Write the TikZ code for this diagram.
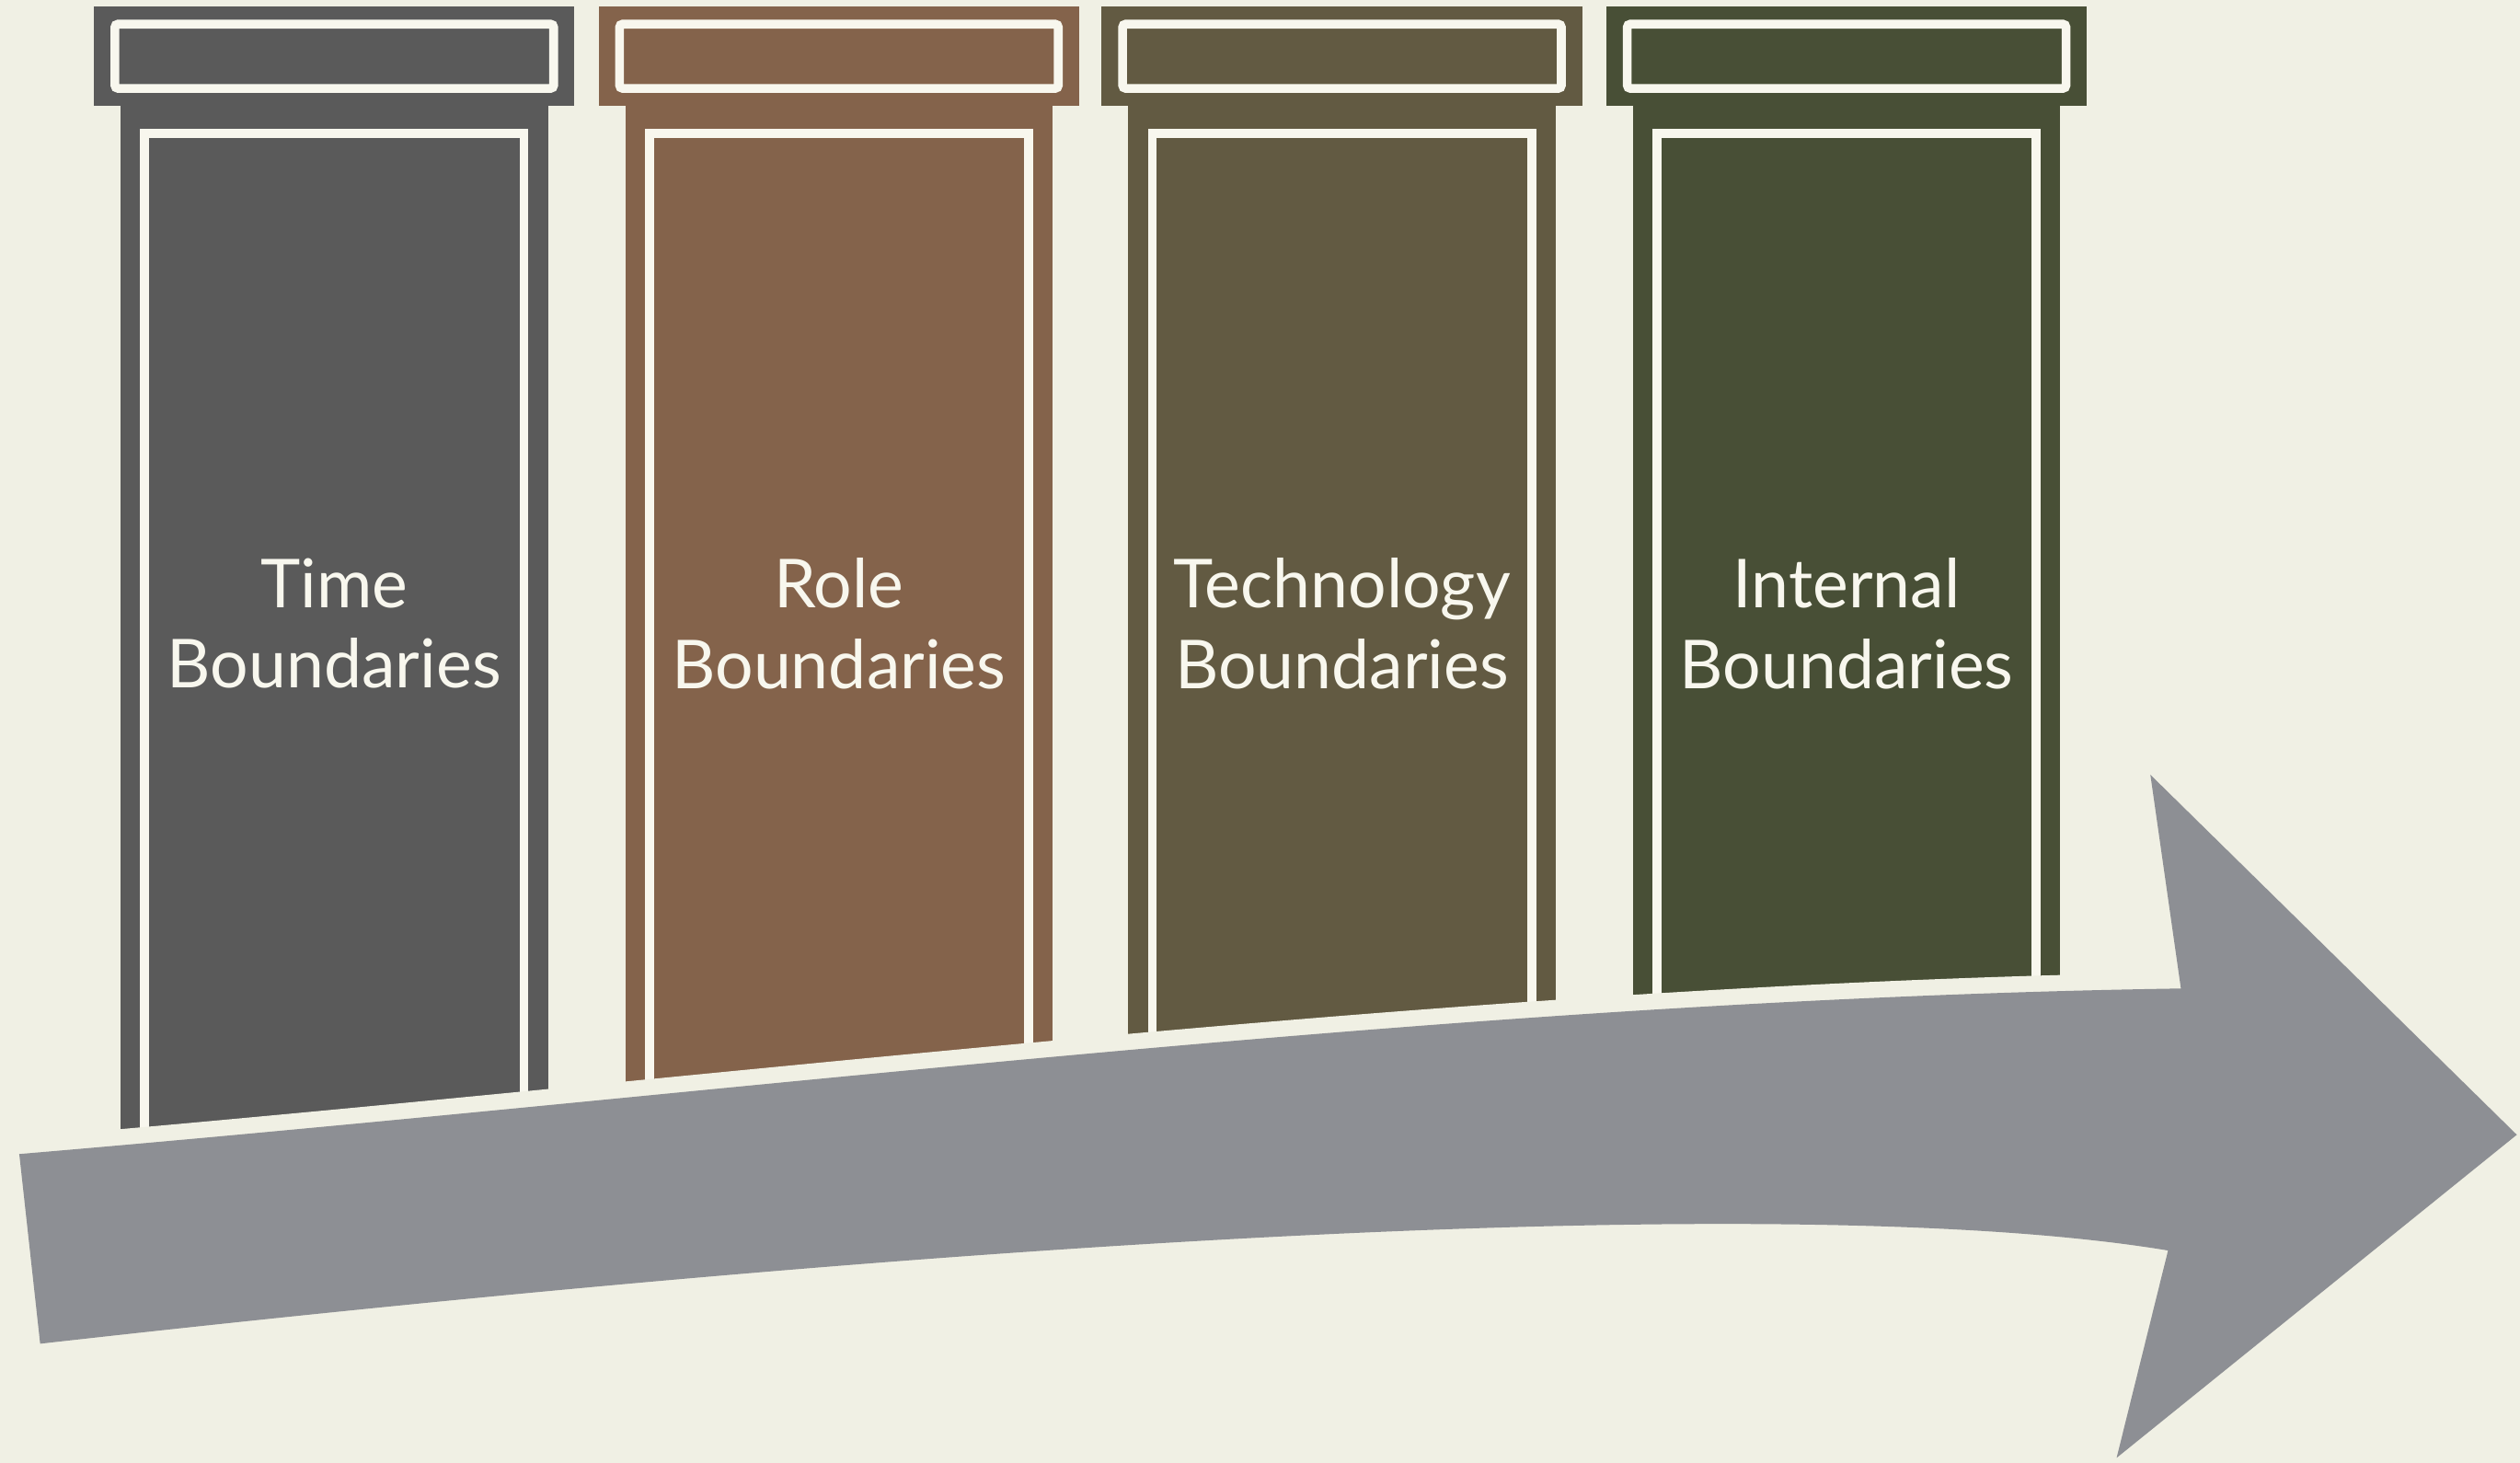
\documentclass[tikz,border=0pt]{standalone}
\usepackage{fontspec}
\usepackage{tikz}
\usetikzlibrary{positioning}
\newfontfamily\labelfont{Lato}
\definecolor{paper}{HTML}{F0F0E4}
\definecolor{edge}{HTML}{F8F7EE}
\definecolor{slate}{HTML}{5A5A5A}
\definecolor{clay}{HTML}{84634B}
\definecolor{umber}{HTML}{625A42}
\definecolor{moss}{HTML}{484F36}
\definecolor{steel}{HTML}{8D8F94}
\tikzset{
x=1pt, y=-1pt, % picture is laid out in pixels, top left origin
shaft/.style={rectangle, minimum width=266pt, inner sep=0pt, outer sep=0pt, anchor=north}, % the body of a pillar
slab/.style={rectangle, minimum width=299pt, minimum height=62pt, inner sep=0pt, outer sep=0pt}, % the top slab
slabline/.style={rectangle, draw=edge, line width=5.5pt, rounded corners=2pt, minimum width=273pt, minimum height=40pt, inner sep=0pt, outer sep=0pt},
panel/.style={rectangle, draw=edge, line width=5.5pt, minimum width=236pt, inner sep=0pt, outer sep=0pt, anchor=north}, % white frame inside the body
tag/.style={text=edge, align=center, font=\labelfont\fontsize{42}{50}\selectfont},
timeline/.style={fill=steel, preaction={draw=paper, line width=20pt, line join=round}}, % the big arrow, its outline cuts the pillars
}
\begin{document}
\begin{tikzpicture}
\fill[paper] (0,0) rectangle (1568,910);
\useasboundingbox (0,0) rectangle (1568,910);

% pillar 1
\node[shaft, fill=slate, minimum height=654pt] (shaft1) at (208,66) {};
\node[slab, fill=slate, above=0pt of shaft1] (slab1) {};
\node[slabline, fill=slate] (slabline1) at (slab1) {};
\node[panel, fill=slate, minimum height=634pt] (panel1) at ([yshift=-17pt]shaft1.north) {};
\node[tag] (tag1) at ([yshift=-322pt]shaft1.north) {Time\\Boundaries};

% pillar 2
\node[shaft, fill=clay, minimum height=634pt] (shaft2) at (522,66) {};
\node[slab, fill=clay, above=0pt of shaft2] (slab2) {};
\node[slabline, fill=clay] (slabline2) at (slab2) {};
\node[panel, fill=clay, minimum height=614pt] (panel2) at ([yshift=-17pt]shaft2.north) {};
\node[tag] (tag2) at ([yshift=-322pt]shaft2.north) {Role\\Boundaries};

% pillar 3
\node[shaft, fill=umber, minimum height=614pt] (shaft3) at (835,66) {};
\node[slab, fill=umber, above=0pt of shaft3] (slab3) {};
\node[slabline, fill=umber] (slabline3) at (slab3) {};
\node[panel, fill=umber, minimum height=594pt] (panel3) at ([yshift=-17pt]shaft3.north) {};
\node[tag] (tag3) at ([yshift=-322pt]shaft3.north) {Technology\\Boundaries};

% pillar 4
\node[shaft, fill=moss, minimum height=594pt] (shaft4) at (1149,66) {};
\node[slab, fill=moss, above=0pt of shaft4] (slab4) {};
\node[slabline, fill=moss] (slabline4) at (slab4) {};
\node[panel, fill=moss, minimum height=574pt] (panel4) at ([yshift=-17pt]shaft4.north) {};
\node[tag] (tag4) at ([yshift=-322pt]shaft4.north) {Internal\\Boundaries};

% arrow under the pillars
\path[timeline] (12,718) .. controls (462,680) and (907,622) .. (1357,615)
    -- (1338,482) -- (1566,706) -- (1317,907) -- (1349,778)
    .. controls (1150,745) and (700,760) .. (25,836) -- cycle;
\end{tikzpicture}
\end{document}
